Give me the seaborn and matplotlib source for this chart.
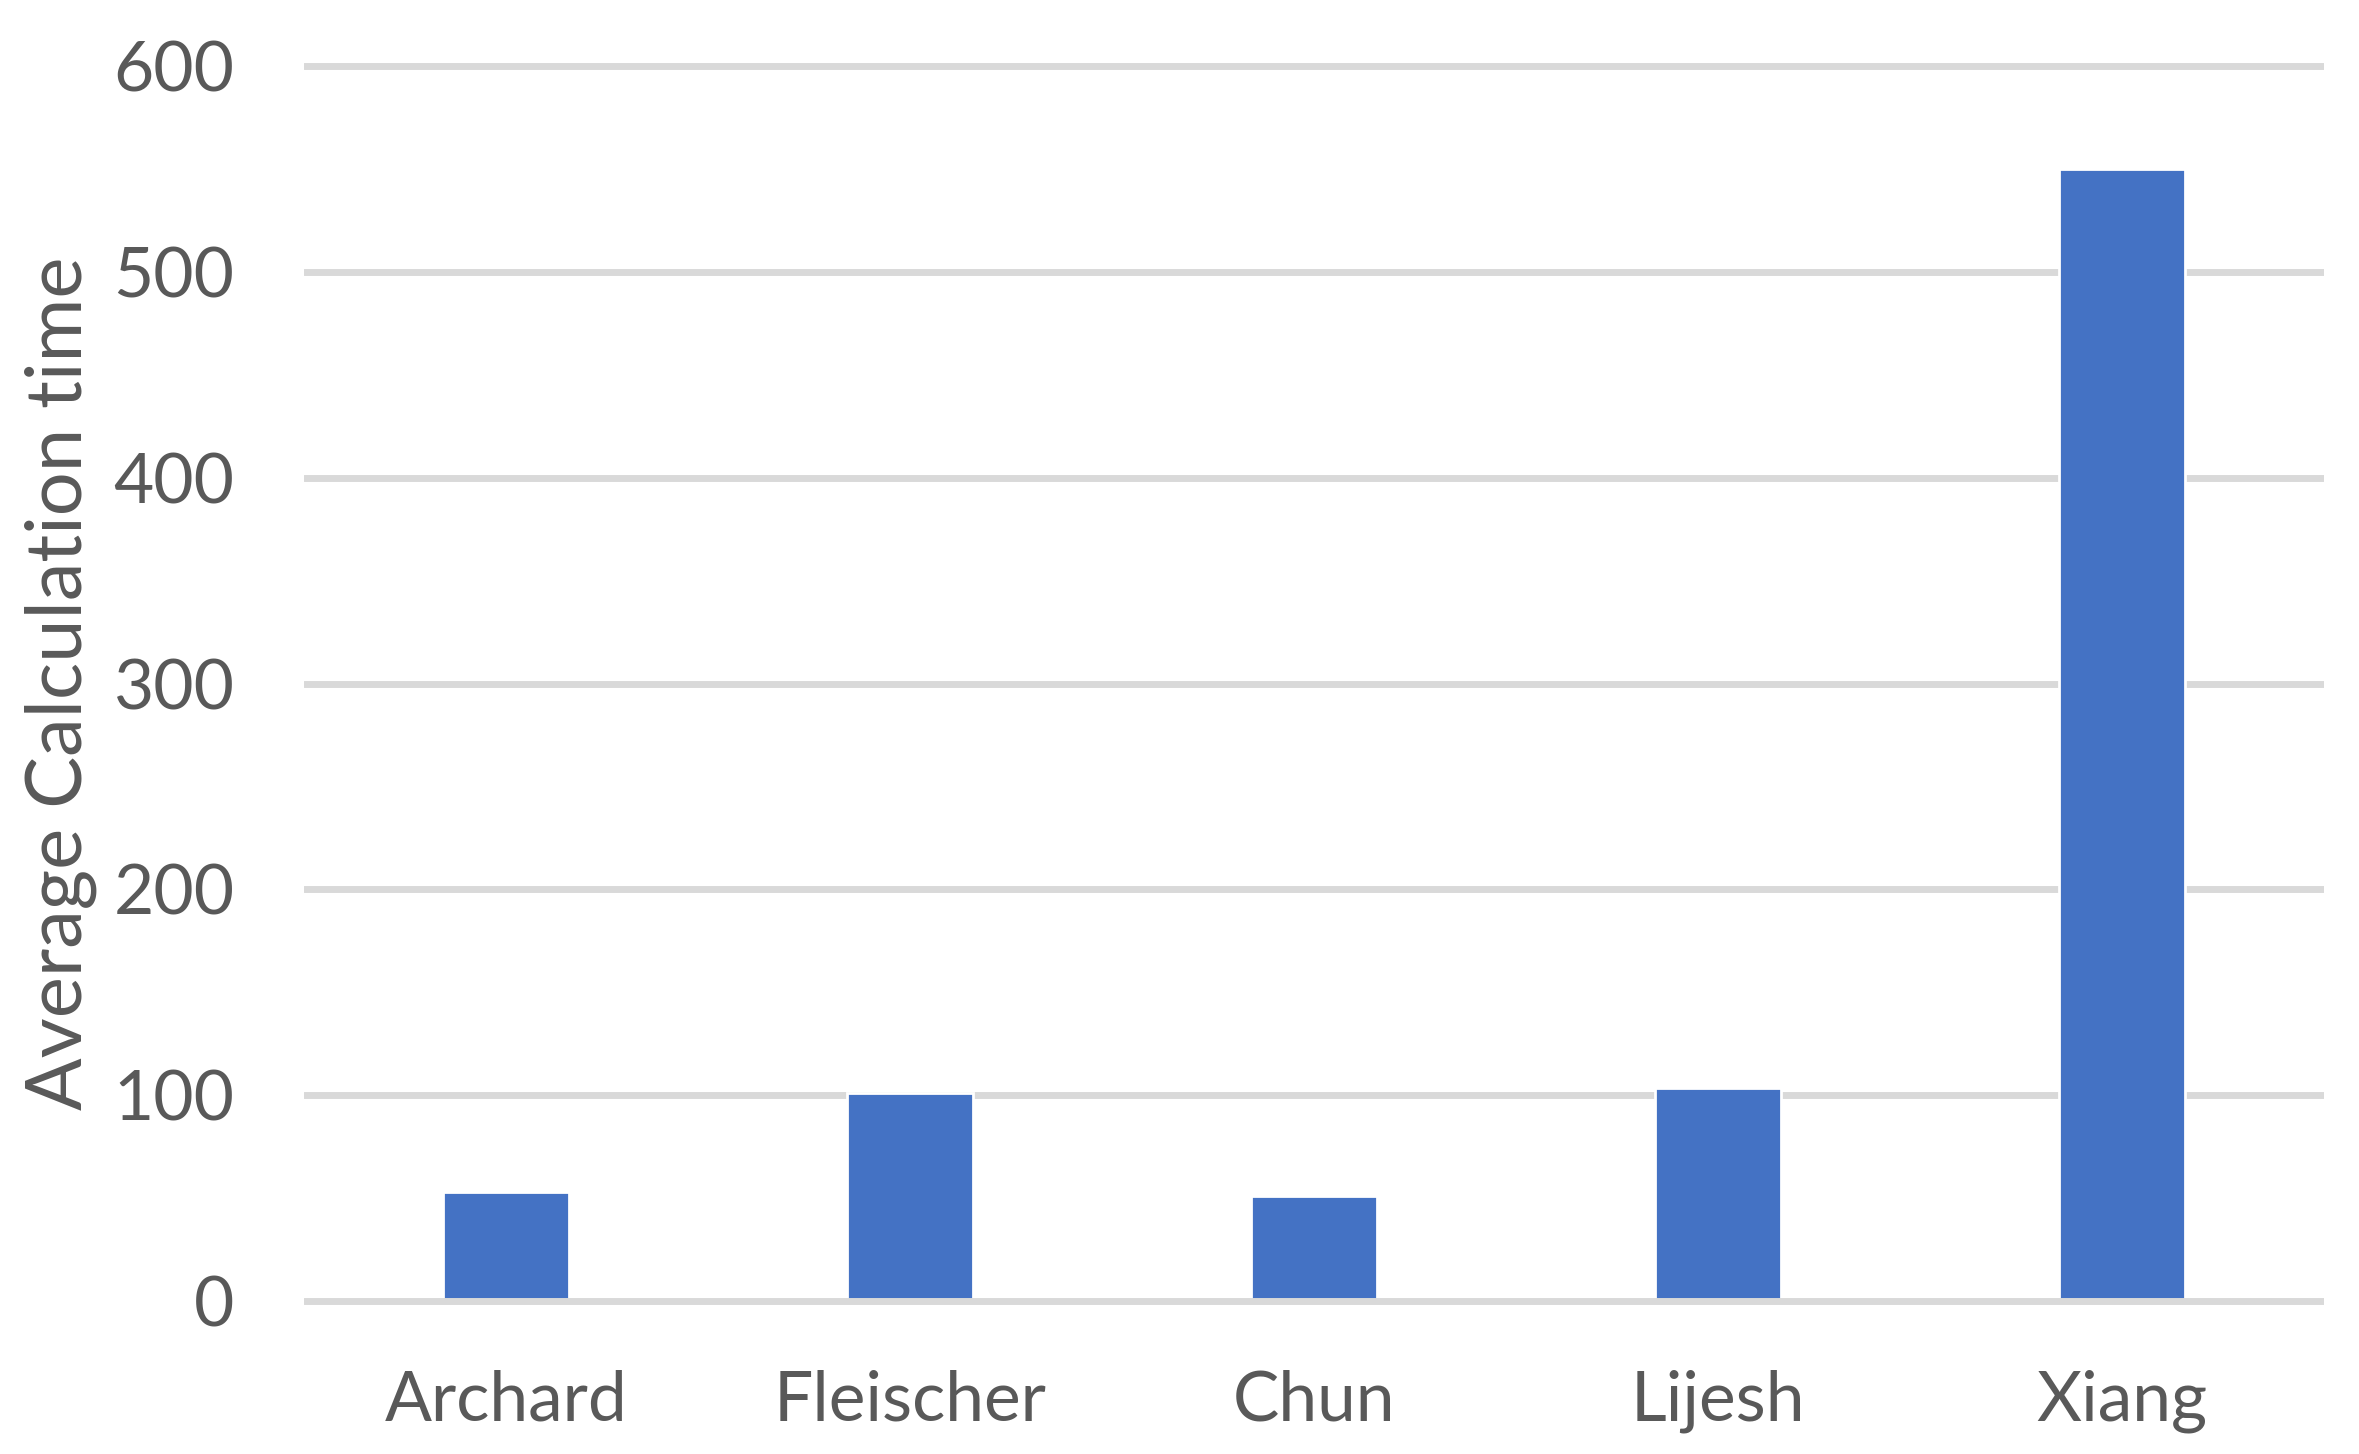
import matplotlib
matplotlib.use("Agg")
import matplotlib.pyplot as plt
import seaborn as sns
import pandas as pd

categories = ["Archard", "Fleischer", "Chun", "Lijesh", "Xiang"]
values = [53, 101, 51, 103.5, 550]
yticks = [0, 100, 200, 300, 400, 500, 600]
ylabel = "Average Calculation time"

sns.set_theme(style="white")
plt.rcParams['font.family'] = ['Lato', 'DejaVu Sans']

DPI = 200
fig = plt.figure(figsize=(2359 / DPI, 1454 / DPI), dpi=DPI)
ax = fig.add_axes([0.1289, 0.0979, 0.8563, 0.8640])

df = pd.DataFrame({"cat": categories, "val": values})
sns.barplot(data=df, x="cat", y="val", color="#4472C4", saturation=1,
            width=0.31, ax=ax, zorder=3)

ax.set_ylim(-5, 605)
ax.set_xlim(-0.5, len(categories) - 0.5)
ax.set_yticks(yticks)
for t in yticks:
    ax.axhline(t, color="#D9D9D9", lw=2.5, zorder=1 if t else 4)

for s in ax.spines.values():
    s.set_visible(False)
ax.tick_params(axis="both", length=0, labelsize=25, colors="#595959")
ax.tick_params(axis="y", pad=25)
ax.tick_params(axis="x", pad=21)
ax.set_xlabel("")
ax.set_ylabel(ylabel, fontsize=28, color="#595959", labelpad=6)
ax.grid(False)

fig.savefig("out.png", dpi=DPI)
